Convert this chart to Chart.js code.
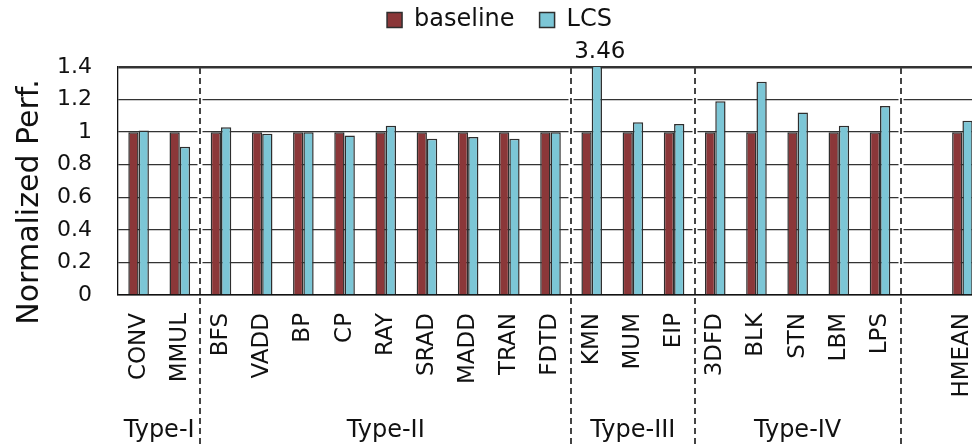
<!DOCTYPE html>
<html>
<head>
<meta charset="utf-8">
<script src="https://cdn.jsdelivr.net/npm/chart.js@4/dist/chart.umd.min.js"></script>
<style>
  html, body { margin: 0; padding: 0; background: #fff; overflow: hidden; }
  #wrap { width: 1022px; height: 445px; }
</style>
</head>
<body>
<div id="wrap"><canvas id="perf-chart" width="1022" height="445"></canvas></div>
<script>
// benchmark names (empty slot before HMEAN as in the figure)
const categories = ["CONV", "MMUL", "BFS", "VADD", "BP", "CP", "RAY", "SRAD", "MADD", "TRAN", "FDTD",
  "KMN", "MUM", "EIP", "3DFD", "BLK", "STN", "LBM", "LPS", "", "HMEAN"];
const baseline = [1, 1, 1, 1, 1, 1, 1, 1, 1, 1, 1, 1, 1, 1, 1, 1, 1, 1, 1, null, 1];
const lcs = [1.01, 0.91, 1.03, 0.99, 1.0, 0.98, 1.04, 0.96, 0.97, 0.96, 1.0,
  3.46, 1.06, 1.05, 1.19, 1.31, 1.12, 1.04, 1.16, null, 1.07];
const yTicks = [0, 0.2, 0.4, 0.6, 0.8, 1, 1.2, 1.4];
const yTitle = "Normalized Perf.";
// group names and the category index where each group ends
const groupNames = ["Type-I", "Type-II", "Type-III", "Type-IV"];
const groupEnds = [2, 11, 14, 19];

const FONT = "'DejaVu Sans', Verdana, sans-serif";
const TEXT = "#111";

const groupPlugin = {
  id: "groups",
  afterInit(chart) {
    // leave room between legend and plot for the overflow label
    const legend = chart.legend;
    const fit = legend.fit;
    legend.fit = function () { fit.call(this); this.height = 84; };
  },
  afterDraw(chart) {
    const { ctx, chartArea, scales: { x, y } } = chart;
    const step = x.getPixelForValue(1) - x.getPixelForValue(0);
    const edge = i => x.getPixelForValue(i) - step / 2;
    ctx.save();

    groupEnds.forEach(i => {
      const px = Math.round(edge(i));
      ctx.strokeStyle = "#fff";
      ctx.lineWidth = 5;
      ctx.setLineDash([]);
      ctx.beginPath();
      ctx.moveTo(px, chartArea.top + 2);
      ctx.lineTo(px, chartArea.bottom - 1);
      ctx.stroke();
      ctx.strokeStyle = "#444";
      ctx.lineWidth = 2;
      ctx.setLineDash([6, 4]);
      ctx.beginPath();
      ctx.moveTo(px, chartArea.top + 1);
      ctx.lineTo(px, chart.height);
      ctx.stroke();
    });

    ctx.setLineDash([]);
    ctx.fillStyle = TEXT;
    ctx.font = "24px " + FONT;
    ctx.textAlign = "center";
    ctx.textBaseline = "middle";
    groupNames.forEach((name, k) => {
      const a = k === 0 ? chartArea.left : edge(groupEnds[k - 1]);
      const b = edge(groupEnds[k]);
      ctx.fillText(name, (a + b) / 2, 431);
    });

    // value label for bars running past the axis max
    const meta = chart.getDatasetMeta(1);
    ctx.font = "23px " + FONT;
    lcs.forEach((v, i) => {
      if (v !== null && v > y.max) {
        ctx.fillText(v.toFixed(2), meta.data[i].x + 3, chartArea.top - 15);
      }
    });

    // axis title, sitting a little below the plot centre like the original
    ctx.font = "30px " + FONT;
    ctx.translate(30, (chartArea.top + chartArea.bottom) / 2 + 21);
    ctx.rotate(-Math.PI / 2);
    ctx.fillText(yTitle, 0, 0);
    ctx.restore();
  }
};

new Chart(document.getElementById("perf-chart"), {
  type: "bar",
  data: {
    labels: categories,
    datasets: [
      {
        label: "baseline",
        data: baseline,
        backgroundColor: "#8b3739",
        borderColor: "#2e2e2e",
        borderWidth: 1.5
      },
      {
        label: "LCS",
        data: lcs,
        backgroundColor: "#7cc6d6",
        borderColor: "#2e2e2e",
        borderWidth: 1.5
      }
    ]
  },
  options: {
    responsive: false,
    animation: false,
    layout: { padding: { top: -17, left: 16, right: 39, bottom: 0 } },
    datasets: { bar: { categoryPercentage: 0.5, barPercentage: 1.0 } },
    plugins: {
      tooltip: { enabled: false },
      legend: {
        position: "top",
        labels: {
          color: TEXT,
          font: { family: FONT, size: 24 },
          boxWidth: 15,
          boxHeight: 15,
          padding: 25
        }
      }
    },
    scales: {
      x: {
        grid: { display: false, drawTicks: false },
        border: { display: true, color: "#111", width: 1.5 },
        ticks: {
          autoSkip: false,
          minRotation: 90,
          maxRotation: 90,
          padding: 18,
          color: TEXT,
          font: { family: FONT, size: 23 }
        },
        afterFit(axis) { axis.height = 150; }
      },
      y: {
        min: 0,
        max: 1.4,
        afterBuildTicks(axis) { axis.ticks = yTicks.map(v => ({ value: v })); },
        grid: {
          drawTicks: false,
          color: "#333",
          lineWidth: c => (Math.abs(c.tick.value - 1.4) < 1e-9 ? 2.5 : 1.3)
        },
        border: { display: true, color: "#111", width: 1.3 },
        ticks: {
          padding: 26,
          color: TEXT,
          font: { family: FONT, size: 22 },
          callback: v => String(+Number(v).toFixed(1))
        },
        afterFit(axis) { axis.width = 102; }
      }
    }
  },
  plugins: [groupPlugin]
});
</script>
</body>
</html>
